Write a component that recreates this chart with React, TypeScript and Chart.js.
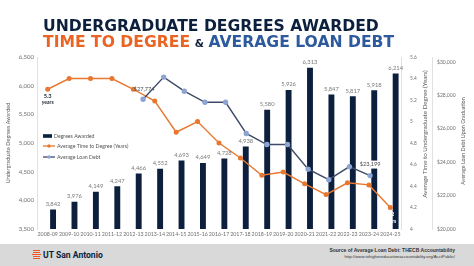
import React, { useEffect, useRef } from "react";
import { Chart, registerables } from "chart.js";

Chart.register(...registerables);

// ---- Data ----
const years = [
  "2008-09", "2009-10", "2010-11", "2011-12", "2012-13", "2013-14", "2014-15", "2015-16", "2016-17",
  "2017-18", "2018-19", "2019-20", "2020-21", "2021-22", "2022-23", "2023-24", "2024-25",
];
const degreesAwarded = [3842, 3976, 4149, 4247, 4466, 4552, 4693, 4649, 4728, 4938, 5580, 5926, 6313, 5847, 5817, 5918, 6214];
const timeToDegree = [5.3, 5.4, 5.4, 5.4, 5.3, 5.19, 4.9, 5.0, 4.8, 4.66, 4.5, 4.53, 4.42, 4.32, 4.43, 4.41, 4.2];
const loanYears = ["2012-13", "2013-14", "2014-15", "2015-16", "2016-17", "2017-18", "2018-19", "2019-20", "2020-21", "2021-22", "2022-23", "2023-24"];
const loanDebt = [27774, 29096, 28253, 27590, 27590, 25723, 25060, 25060, 23584, 22952, 23735, 23199];

const degreeTicks = { min: 3500, max: 6500, step: 500 };
const timeTicks = { min: 4, max: 5.6, step: 0.2 };
const loanTickValues = [20000, 22000, 24000, 26000, 28000, 30000];
const loanRange = { min: 20000, max: 30300 };

const NAVY = "#0c1f3d";
const ORANGE = "#e8772f";
const LOAN_LINE = "#3d4b68";
const LOAN_MARK = "#8ea4d2";
const GRAY = "#6f6f6f";
const AXIS_LINE = "#d9d9d9";

const fmtInt = (v: number) => Math.round(v).toLocaleString("en-US");

const customPlugin = {
  id: "customDraw",
  afterDatasetsDraw(chart: any) {
    const { ctx } = chart;
    ctx.save();
    // bar value labels
    const bars = chart.getDatasetMeta(2).data;
    ctx.font = "5.8px Lato";
    ctx.fillStyle = "#7a7a7a";
    ctx.textAlign = "center";
    ctx.textBaseline = "middle";
    bars.forEach((b: any, i: number) => ctx.fillText(fmtInt(degreesAwarded[i]), b.x, b.y - 5.5));

    // time-to-degree end labels
    const tp = chart.getDatasetMeta(1).data;
    const first = tp[0];
    const last = tp[tp.length - 1];
    ctx.fillStyle = "#1d2535";
    ctx.font = "bold 5.6px Lato";
    ctx.fillText(String(timeToDegree[0]), first.x, first.y + 7);
    ctx.font = "bold 5px Lato";
    ctx.fillText("years", first.x, first.y + 13.5);
    ctx.fillStyle = "#ffffff";
    ctx.font = "bold 5.6px Lato";
    ctx.fillText(String(timeToDegree[timeToDegree.length - 1]), last.x, last.y + 7);
    ctx.font = "bold 5px Lato";
    ctx.fillText("years", last.x, last.y + 13.5);

    // loan end labels
    const lp = chart.getDatasetMeta(0).data;
    ctx.font = "5.6px Lato";
    const l0 = lp[0];
    const t0 = "$" + fmtInt(loanDebt[0]);
    ctx.fillStyle = "#4a4a4a";
    ctx.fillText(t0, l0.x + 1, l0.y - 10);
    const ln = lp[lp.length - 1];
    const tn = "$" + fmtInt(loanDebt[loanDebt.length - 1]);
    const w = ctx.measureText(tn).width;
    ctx.fillStyle = "#ffffff";
    ctx.fillRect(ln.x - w / 2 - 2, ln.y - 11 - 4, w + 4, 8);
    ctx.fillStyle = "#4a4a4a";
    ctx.fillText(tn, ln.x, ln.y - 11);
    ctx.restore();
  },
  afterDraw(chart: any) {
    const { ctx, chartArea } = chart;
    ctx.save();
    // legend
    const lx = chartArea.left + 6;
    const rows = [chartArea.top + 79, chartArea.top + 89, chartArea.top + 100];
    ctx.font = "5.2px Lato";
    ctx.textAlign = "left";
    ctx.textBaseline = "middle";
    ctx.fillStyle = NAVY;
    ctx.fillRect(lx, rows[0] - 1.8, 9, 3.6);
    ctx.fillStyle = "#555555";
    ctx.fillText("Degrees Awarded", lx + 11, rows[0]);
    const lineItem = (y: number, lc: string, mc: string, text: string) => {
      ctx.strokeStyle = lc;
      ctx.lineWidth = 1.3;
      ctx.beginPath();
      ctx.moveTo(lx, y);
      ctx.lineTo(lx + 12, y);
      ctx.stroke();
      ctx.fillStyle = mc;
      ctx.beginPath();
      ctx.arc(lx + 6, y, 1.7, 0, Math.PI * 2);
      ctx.fill();
      ctx.fillStyle = "#555555";
      ctx.fillText(text, lx + 14, y);
    };
    lineItem(rows[1], ORANGE, ORANGE, "Average Time to Degree (Years)");
    lineItem(rows[2], LOAN_LINE, LOAN_MARK, "Average Loan Debt");

    // axis titles (rotated, reading bottom-to-top)
    const title = (x: number, y: number, text: string, size: number) => {
      ctx.save();
      ctx.translate(x, y);
      ctx.rotate(-Math.PI / 2);
      ctx.font = size + "px Lato";
      ctx.fillStyle = "#5a5a5a";
      ctx.textAlign = "center";
      ctx.textBaseline = "middle";
      ctx.fillText(text, 0, 0);
      ctx.restore();
    };
    const cy = (chartArea.top + chartArea.bottom) / 2;
    title(8, cy, "Undergraduate Degrees Awarded", 5.5);
    title(chartArea.right + 24, cy - 9, "Average Time to Undergraduate Degree (Years)", 6.2);
    title(chartArea.right + 62, cy - 2, "Average Loan Debt Upon Graduation", 5.4);
    ctx.restore();
  },
};

export default function App() {
  const canvasRef = useRef<HTMLCanvasElement | null>(null);

  useEffect(() => {
    if (!canvasRef.current) return;
    const chart = new Chart(canvasRef.current, {
      type: "bar",
      data: {
        labels: years,
        datasets: [
          {
            type: "line",
            label: "Average Loan Debt",
            data: loanDebt.map((v, i) => ({ x: i, y: v })) as any,
            xAxisID: "x2",
            yAxisID: "y2",
            borderColor: LOAN_LINE,
            borderWidth: 1.4,
            pointBackgroundColor: LOAN_MARK,
            pointBorderColor: LOAN_MARK,
            pointRadius: 2,
            tension: 0,
            order: 0,
          } as any,
          {
            type: "line",
            label: "Average Time to Degree (Years)",
            data: timeToDegree,
            xAxisID: "x",
            yAxisID: "y1",
            borderColor: ORANGE,
            borderWidth: 1.4,
            pointBackgroundColor: ORANGE,
            pointBorderColor: ORANGE,
            pointRadius: 1.8,
            tension: 0,
            order: 1,
          } as any,
          {
            type: "bar",
            label: "Degrees Awarded",
            data: degreesAwarded,
            xAxisID: "x",
            yAxisID: "y",
            backgroundColor: NAVY,
            barPercentage: 0.55,
            categoryPercentage: 1,
            order: 2,
          } as any,
        ],
      },
      options: {
        responsive: false,
        animation: false,
        devicePixelRatio: 1,
        layout: { padding: { top: 57, bottom: 23, left: 0, right: 0 } },
        plugins: { legend: { display: false }, tooltip: { enabled: false }, title: { display: false } },
        scales: {
          x: {
            type: "category",
            offset: true,
            grid: { display: false, drawTicks: false },
            border: { display: false },
            ticks: {
              autoSkip: false,
              maxRotation: 0,
              minRotation: 0,
              padding: 2,
              color: GRAY,
              font: { family: "Lato", size: 5.3 },
            },
            afterFit: (s: any) => { s.height = 14; },
          },
          x2: {
            type: "linear",
            display: false,
            offset: false,
            bounds: "data",
            min: -5.14,
            max: 12.5,
            grid: { offset: false },
          },
          y: {
            type: "linear",
            position: "left",
            min: degreeTicks.min,
            max: degreeTicks.max,
            grid: { display: false, drawTicks: false },
            border: { display: true, color: AXIS_LINE, width: 0.8 },
            ticks: {
              stepSize: degreeTicks.step,
              padding: 3,
              color: GRAY,
              font: { family: "Lato", size: 6 },
              callback: (v: any) => fmtInt(Number(v)),
            },
            afterFit: (s: any) => { s.width = 37; },
          },
          y1: {
            type: "linear",
            position: "right",
            weight: 0,
            min: timeTicks.min,
            max: timeTicks.max,
            grid: { display: false, drawTicks: false },
            border: { display: true, color: AXIS_LINE, width: 0.8 },
            ticks: {
              stepSize: timeTicks.step,
              padding: 9,
              color: GRAY,
              font: { family: "Lato", size: 4.8 },
              callback: (v: any) => String(Number(Number(v).toFixed(1))),
            },
            afterFit: (s: any) => { s.width = 31; },
          },
          y2: {
            type: "linear",
            position: "right",
            weight: 1,
            min: loanRange.min,
            max: loanRange.max,
            grid: { display: false, drawTicks: false },
            border: { display: true, color: AXIS_LINE, width: 0.8 },
            afterBuildTicks: (s: any) => {
              s.ticks = loanTickValues.map((v) => ({ value: v }));
            },
            ticks: {
              padding: 5,
              color: GRAY,
              font: { family: "Lato", size: 5 },
              callback: (v: any) => "$" + fmtInt(Number(v)),
            },
            afterFit: (s: any) => { s.width = 42; },
          },
        },
      } as any,
      plugins: [customPlugin],
    });
    return () => chart.destroy();
  }, []);

  const titleBase: React.CSSProperties = {
    position: "absolute",
    left: 43,
    fontFamily: '"DejaVu Sans", sans-serif',
    fontWeight: 700,
    whiteSpace: "nowrap",
    lineHeight: "16px",
    fontSize: 15.6,
  };

  return (
    <div style={{ position: "fixed", left: 0, top: 0, width: 474, height: 266, background: "#ffffff", overflow: "hidden" }}>
      <canvas ref={canvasRef} width={474} height={266} style={{ position: "absolute", left: 0, top: 0, width: 474, height: 266 }} />
      <div style={{ ...titleBase, top: 18, color: NAVY }}>UNDERGRADUATE DEGREES AWARDED</div>
      <div style={{ ...titleBase, top: 34 }}>
        <span style={{ color: "#ea6524" }}>TIME TO DEGREE</span>
        <span style={{ color: NAVY, fontSize: 10.5, margin: "0 1px" }}> &amp; </span>
        <span style={{ color: "#2c5a9c" }}>AVERAGE LOAN DEBT</span>
      </div>
      <div style={{ position: "absolute", left: 0, top: 244, width: 474, height: 22, background: "#d9d9d9" }}>
        <div style={{ position: "absolute", left: 32, top: 6, width: 9, height: 10 }}>
          {[0, 1, 2, 3, 4].map((i) => (
            <div
              key={i}
              style={{
                position: "absolute",
                left: i === 2 ? 0 : 1,
                top: i * 2,
                width: i === 2 ? 9 : 7,
                height: 1.2,
                background: "#f15a22",
              }}
            />
          ))}
        </div>
        <div
          style={{
            position: "absolute",
            left: 43,
            top: 5,
            fontFamily: "Roboto, sans-serif",
            fontWeight: 700,
            fontSize: 8.6,
            lineHeight: "12px",
            color: NAVY,
            whiteSpace: "nowrap",
          }}
        >
          UT San Antonio
        </div>
        <div
          style={{
            position: "absolute",
            right: 19,
            top: 3,
            textAlign: "right",
            fontFamily: '"Liberation Sans", Arial, sans-serif',
            color: "#333333",
            whiteSpace: "nowrap",
          }}
        >
          <div style={{ fontWeight: 700, fontSize: 5, lineHeight: "7px" }}>Source of Average Loan Debt: THECB Accountability</div>
          <div style={{ fontSize: 4.3, lineHeight: "6px" }}>http://www.txhighereducationaccountability.org/AcctPublic/</div>
        </div>
      </div>
    </div>
  );
}
